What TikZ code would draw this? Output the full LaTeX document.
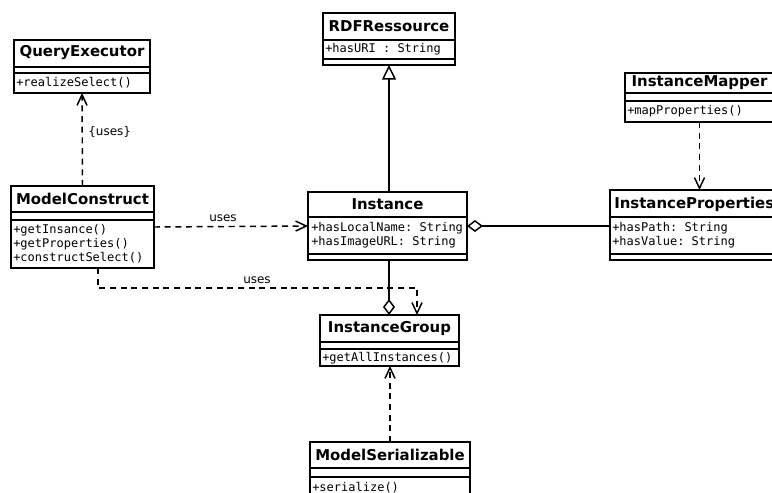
\documentclass[tikz,border=0pt]{standalone}
\usepackage{fontspec}
\setmainfont{DejaVu Sans}
\setmonofont{DejaVu Sans Mono}
\usetikzlibrary{arrows.meta}
\tikzset{
  classbox/.style={draw, line width=1.3pt, inner sep=0pt, outer sep=0pt, anchor=north west},
  sepline/.style={line width=1.1pt},
  title/.style={font=\fontsize{11.2}{13}\selectfont\bfseries, inner sep=0pt},
  member/.style={font=\fontsize{9}{11}\selectfont\ttfamily, anchor=west, inner sep=0pt},
  lbl/.style={font=\fontsize{9}{11}\selectfont, inner sep=0pt},
  dep/.style={line width=1.1pt, dash pattern=on 4.5pt off 3.5pt, -{Straight Barb[length=8pt,width=7.5pt,line width=1.1pt]}},
  gen/.style={line width=1.1pt, -{Triangle[open,length=11pt,width=10.5pt,line width=1.1pt]}},
  agg/.style={line width=1.1pt, -{Diamond[open,length=12pt,width=9pt,line width=1.1pt]}},
}
\newcommand{\umlbox}[7]{%
  \node[classbox, minimum width={(#4-#2)*0.75pt}, minimum height={(#5-#3)*0.75pt}] (#1) at (#2,#3) {};
  \draw[sepline] (#2,#6) -- (#4,#6);
  \draw[sepline] (#2,#7) -- (#4,#7);
}
\begin{document}
\begin{tikzpicture}[x=0.75pt,y=-0.75pt]
\useasboundingbox (0,0) rectangle (772,493);
\fill[white] (0,0) rectangle (772,493);

% QueryExecutor
\umlbox{qe}{14}{40}{150}{93}{67}{73}
\node[title] (qet) at (82,53) {QueryExecutor};
\node[member] (qem1) at (16,83) {+realizeSelect()};

% ModelConstruct
\umlbox{mc}{11}{186}{154}{268}{212}{220}
\node[title] (mct) at (82.5,199) {ModelConstruct};
\node[member] (mcm1) at (13,230) {+getInsance()};
\node[member] (mcm2) at (13,244) {+getProperties()};
\node[member] (mcm3) at (13,258) {+constructSelect()};

% RDFRessource
\umlbox{rdf}{323}{13}{455}{65}{40}{59}
\node[title] (rdft) at (389,26.5) {RDFRessource};
\node[member] (rdfa1) at (325,49.5) {+hasURI : String};

% Instance
\umlbox{inst}{308}{192}{467}{260}{217}{254}
\node[title] (instt) at (387.5,204.5) {Instance};
\node[member] (insta1) at (311,228) {+hasLocalName: String};
\node[member] (insta2) at (311,242) {+hasImageURL: String};

% InstanceMapper
\umlbox{im}{625}{73}{774}{122}{93}{101}
\node[title] (imt) at (699.5,83) {InstanceMapper};
\node[member] (imm1) at (627,111.5) {+mapProperties()};

% InstanceProperties
\umlbox{ip}{610}{190}{778}{260}{217}{254}
\node[title, anchor=west] (ipt) at (614,204) {InstanceProperties};
\node[member] (ipa1) at (612,228) {+hasPath: String};
\node[member] (ipa2) at (612,242) {+hasValue: String};

% InstanceGroup
\umlbox{ig}{320}{315}{459}{366}{342}{349}
\node[title] (igt) at (389.5,328.5) {InstanceGroup};
\node[member] (igm1) at (322,358) {+getAllInstances()};

% ModelSerializable
\umlbox{ms}{310}{442}{470}{505}{468}{477}
\node[title] (mst) at (390,455) {ModelSerializable};
\node[member] (msm1) at (312,488) {+serialize()};

% connectors
\draw[dep] (mc.north) -- (qe.south);
\node[lbl, anchor=west] (l1) at (88,132) {\{uses\}};

\draw[dep] (mc.east) -- (inst.west);
\node[lbl] (l2) at (223,218) {uses};

\coordinate (t1) at (98,288);
\coordinate (t2) at (417,288);
\draw[dep] (mc.south -| t1) -- (t1) -- (t2) -- (ig.north -| t2);
\node[lbl] (l3) at (257,280.5) {uses};

\coordinate (gx) at (389,0);
\draw[gen] (inst.north -| gx) -- (rdf.south -| gx);

\draw[agg] (inst.east -| ip.west) -- (inst.east);

\draw[agg] (inst.south -| gx) -- (ig.north -| gx);

\draw[dep] (im.south) -- (im.south |- ip.north);

\coordinate (sx) at (390,0);
\draw[dep] (ms.north -| sx) -- (ig.south -| sx);
\end{tikzpicture}
\end{document}
